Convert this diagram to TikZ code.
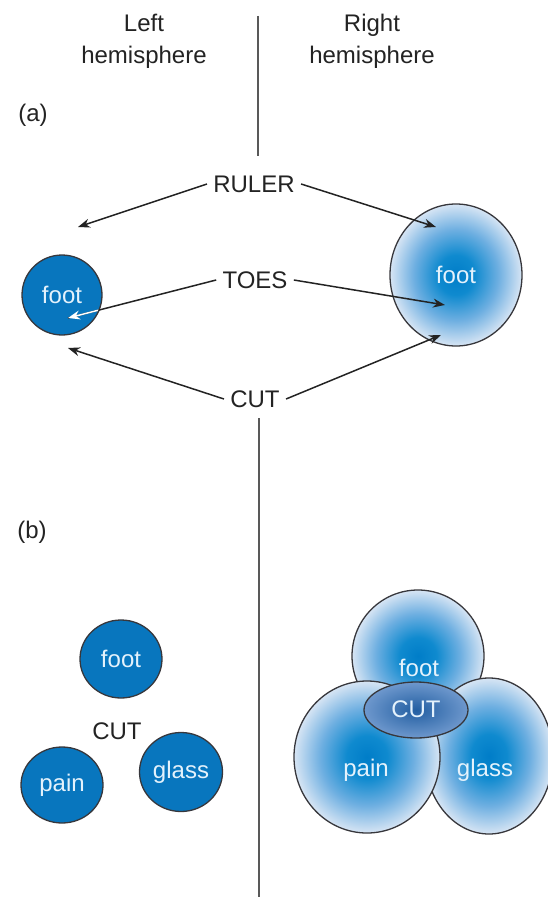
\documentclass[tikz,border=0pt]{standalone}
\usepackage{fontspec}
\setmainfont{Liberation Sans}
\usetikzlibrary{positioning,shapes.geometric,arrows.meta}

\definecolor{flatblue}{RGB}{8,118,190}
\definecolor{glowcore}{RGB}{0,125,200}
\definecolor{glowinner}{RGB}{15,138,207}
\definecolor{glowmid}{RGB}{110,175,225}
\definecolor{glowrim}{RGB}{215,229,244}
\definecolor{cutcore}{RGB}{35,95,162}
\definecolor{cutrim}{RGB}{110,152,205}
\definecolor{rimline}{RGB}{55,55,60}
\definecolor{paletext}{RGB}{228,242,252}
\definecolor{inktext}{RGB}{35,35,35}

\pgfdeclareradialshading{glow}{\pgfpoint{0bp}{0bp}}{color(0bp)=(glowcore); color(7bp)=(glowinner); color(16bp)=(glowmid); color(25bp)=(glowrim); color(50bp)=(glowrim)}
\pgfdeclareradialshading{cutglow}{\pgfpoint{0bp}{0bp}}{color(0bp)=(cutcore); color(25bp)=(cutrim); color(50bp)=(cutrim)}

\begin{document}
\begin{tikzpicture}[x=0.5pt,y=-0.5pt,
    every node/.style={font=\fontsize{12}{16}\selectfont, text=inktext},
    hemi/.style={align=center},
    word/.style={inner sep=3pt},
    intext/.style={text=paletext},
    flatdot/.style={ellipse, draw=rimline, line width=0.65pt, fill=flatblue, inner sep=0pt, text=paletext},
    glowdot/.style={ellipse, draw=rimline, line width=0.65pt, shade, shading=glow, inner sep=0pt, text=paletext},
    cutoval/.style={ellipse, draw=rimline, line width=0.65pt, shade, shading=cutglow, inner sep=0pt},
    arr/.style={-{Stealth[length=6pt,width=4.5pt]}, line width=0.75pt, draw=inktext},
    divide/.style={line width=0.7pt, draw=black!65}]

    \useasboundingbox (0,0) rectangle (547,899);

    % headings and divider
    \node[hemi] (lefthead) at (144,41) {Left\\hemisphere};
    \node[hemi] (righthead) at (372,41) {Right\\hemisphere};
    \node (parta) at (33,115) {(a)};
    \node (partb) at (32,532) {(b)};

    \coordinate (midtop) at (258,16);
    \coordinate (midA) at (258,156);
    \coordinate (midB) at (259,418);
    \coordinate (midbot) at (259,897);
    \draw[divide] (midtop) -- (midA);
    \draw[divide] (midB) -- (midbot);

    % (a) one word reaching both hemispheres
    \node[flatdot, minimum width=40pt, minimum height=40pt] (lfoot) at (62,295) {foot};
    \node[glowdot, minimum width=66pt, minimum height=71pt] (rfoot) at (456,275) {foot};

    \node[word] (ruler) at (254,184) {RULER};
    \node[word] (toes) at (255,280) {TOES};
    \node[word] (cuta) at (255,399) {CUT};

    \coordinate (tipRulerL) at (78,227);
    \coordinate (tipRulerR) at (436,227);
    \coordinate (tipToesL) at (68,318);
    \coordinate (tipToesR) at (445,305);
    \coordinate (tipCutL) at (68,348);
    \coordinate (tipCutR) at (441,335);

    \draw[arr] (ruler.west) -- (tipRulerL);
    \draw[arr] (ruler.east) -- (tipRulerR);
    \draw[arr] (toes.east) -- (tipToesR);
    \draw[arr] (cuta.west) -- (tipCutL);
    \draw[arr] (cuta.east) -- (tipCutR);
    % TOES turns white inside the left foot
    \draw[line width=0.75pt, draw=inktext] (toes.west) -- (tipToesL);
    \begin{scope}
      \clip (lfoot.center) circle [radius=19.6pt];
      \draw[arr, draw=white] (toes.west) -- (tipToesL);
    \end{scope}

    % (b) left: separate fields
    \node[flatdot, minimum width=41pt, minimum height=39pt] (footL) at (121,659) {foot};
    \node[flatdot, minimum width=41pt, minimum height=38pt] (painL) at (62,785) {pain};
    \node[flatdot, minimum width=41.5pt, minimum height=39.5pt] (glassL) at (181,772) {glass};
    \node (cutbL) at (117,731) {CUT};

    % (b) right: overlapping fields
    \node[glowdot, minimum width=66pt, minimum height=66pt] (footR) at (418,656) {};
    \node[glowdot, minimum width=64pt, minimum height=78pt] (glassR) at (489,756) {};
    \node[glowdot, minimum width=73pt, minimum height=76pt] (painR) at (367,757) {};
    \node[cutoval, minimum width=52pt, minimum height=28pt] (cutR) at (416,710) {};

    \node[intext] (footRtxt) at (419,668) {foot};
    \node[intext] (painRtxt) at (366,770) {pain};
    \node[intext] (glassRtxt) at (485,770) {glass};
    \node[intext] (cutRtxt) at (416,709) {CUT};
\end{tikzpicture}
\end{document}
